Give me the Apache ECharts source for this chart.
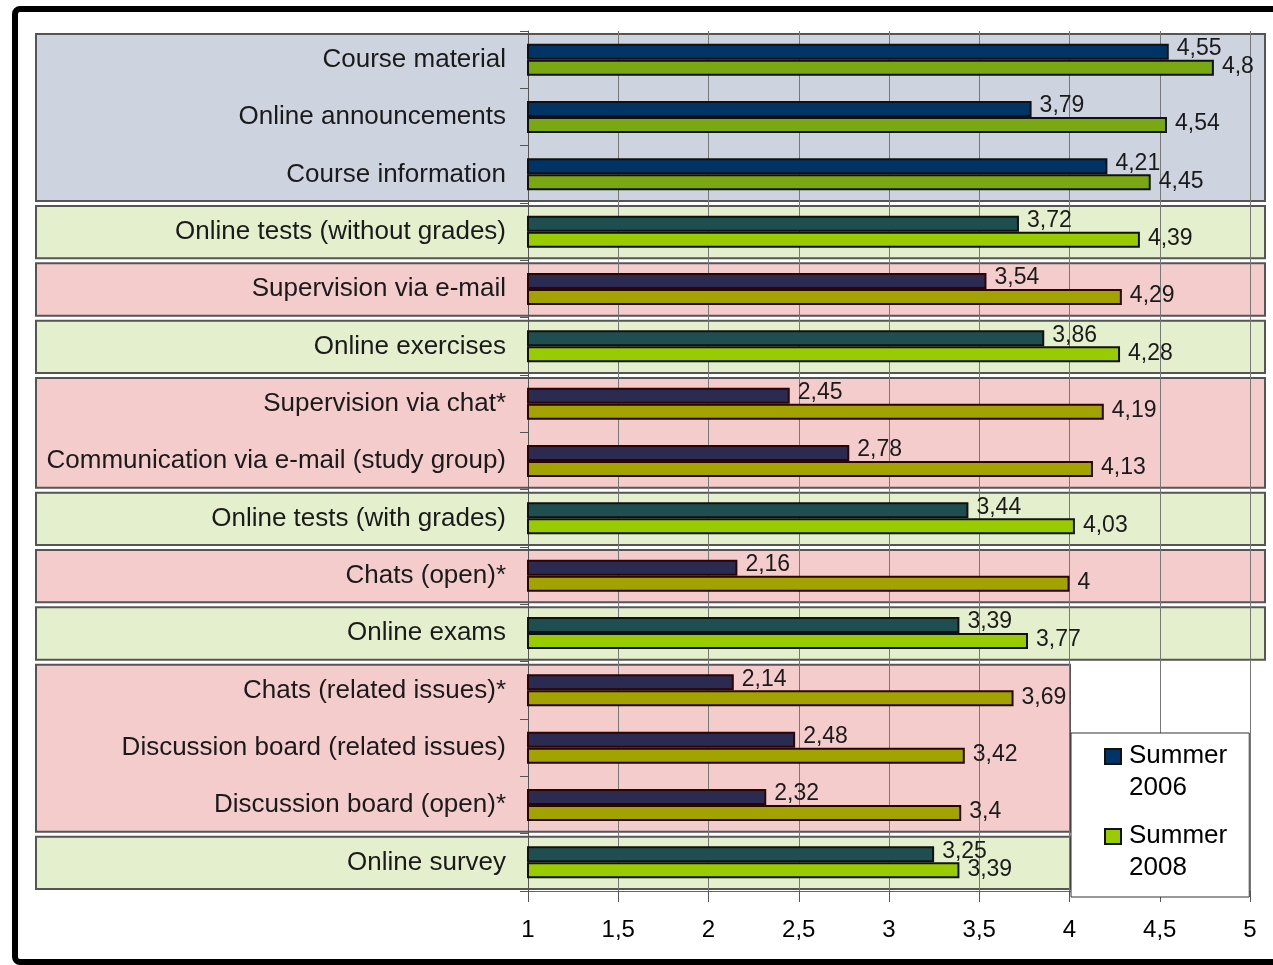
<!DOCTYPE html>
<html>
<head>
<meta charset="utf-8">
<script src="https://cdn.jsdelivr.net/npm/echarts@6/dist/echarts.min.js"></script>
<style>
  html, body { margin: 0; padding: 0; background: #fff; }
  #chart { width: 1273px; height: 965px; }
</style>
</head>
<body>
<div id="chart"></div>
<script>
// ---------- data ----------
const categories = [
  'Course material',
  'Online announcements',
  'Course information',
  'Online tests (without grades)',
  'Supervision via e-mail',
  'Online exercises',
  'Supervision via chat*',
  'Communication via e-mail (study group)',
  'Online tests (with grades)',
  'Chats (open)*',
  'Online exams',
  'Chats (related issues)*',
  'Discussion board (related issues)',
  'Discussion board (open)*',
  'Online survey'
];
const seriesNames = ['Summer 2006', 'Summer 2008'];
const summer2006 = [4.55, 3.79, 4.21, 3.72, 3.54, 3.86, 2.45, 2.78, 3.44, 2.16, 3.39, 2.14, 2.48, 2.32, 3.25];
const summer2008 = [4.8, 4.54, 4.45, 4.39, 4.29, 4.28, 4.19, 4.13, 4.03, 4, 3.77, 3.69, 3.42, 3.4, 3.39];
const xAxisMin = 1;
const xAxisMax = 5;
const xAxisStep = 0.5;
// category groups (first index, last index, kind)
const groupFirst = [0, 3, 4, 5, 6, 8, 9, 10, 11, 14];
const groupLast  = [2, 3, 4, 5, 7, 8, 9, 10, 13, 14];
const groupKind  = ['info', 'practice', 'comm', 'practice', 'comm', 'practice', 'comm', 'practice', 'comm', 'practice'];

// ---------- styles ----------
const FONT = '"Liberation Sans", Arial, sans-serif';
const kindStyle = {
  info:     { bg: '#cdd4df', c1: '#003366', c2: '#7aa812', border: '#111111' },
  practice: { bg: '#e4efcd', c1: '#1f4e50', c2: '#99cc00', border: '#111111' },
  comm:     { bg: '#f4cccc', c1: '#2b2b52', c2: '#a3a300', border: '#2a0505' }
};
const LEGEND_LEFT = 1071, LEGEND_TOP = 733;
const BOX_LEFT = 36, BOX_RIGHT = 1265;

function kindOf(i) {
  for (let g = 0; g < groupFirst.length; g++) {
    if (i >= groupFirst[g] && i <= groupLast[g]) return groupKind[g];
  }
  return 'practice';
}

const data2006 = summer2006.map((v, i) => {
  const s = kindStyle[kindOf(i)];
  return { value: v, itemStyle: { color: s.c1, borderColor: s.border } };
});
const data2008 = summer2008.map((v, i) => {
  const s = kindStyle[kindOf(i)];
  return { value: v, itemStyle: { color: s.c2, borderColor: s.border } };
});

const labelFmt = p => String(p.value).replace('.', ',');

const chart = echarts.init(document.getElementById('chart'), null, { renderer: 'canvas' });

const option = {
  backgroundColor: '#ffffff',
  animation: false,
  grid: { left: 528, right: 23, top: 31, bottom: 74, containLabel: false },
  legend: {
    orient: 'vertical',
    left: LEGEND_LEFT,
    top: LEGEND_TOP,
    padding: [6, 22, 12, 33],
    itemGap: 14,
    itemWidth: 16,
    itemHeight: 64,
    icon: 'path://M0,9L16,9L16,24L0,24ZM0,0M16,64',
    backgroundColor: '#ffffff',
    borderColor: '#333333',
    borderWidth: 1,
    formatter: name => name.replace(' ', '\n'),
    textStyle: { fontFamily: FONT, fontSize: 26, lineHeight: 32, color: '#000', padding: [0, 0, 0, 3] },
    data: seriesNames
  },
  xAxis: {
    type: 'value',
    min: xAxisMin,
    max: xAxisMax,
    interval: xAxisStep,
    axisLine: { show: true, lineStyle: { color: '#666', width: 1 } },
    axisTick: { show: true, length: 11, lineStyle: { color: '#555' } },
    splitLine: { show: true, lineStyle: { color: '#777777', width: 1 } },
    axisLabel: {
      margin: 27,
      fontFamily: FONT,
      fontSize: 24,
      color: '#000',
      formatter: v => String(v).replace('.', ',')
    }
  },
  yAxis: {
    type: 'category',
    inverse: true,
    data: categories,
    axisLine: { show: true, lineStyle: { color: '#555', width: 1 } },
    axisTick: { show: true, length: 8, lineStyle: { color: '#555' } },
    axisLabel: {
      margin: 22,
      fontFamily: FONT,
      fontSize: 26,
      color: '#1a1a1a'
    },
    splitLine: { show: false }
  },
  series: [
    {
      name: seriesNames[0],
      type: 'bar',
      data: data2006,
      barWidth: 16,
      barGap: '0%',
      clip: true,
      itemStyle: { color: '#003366', borderColor: '#111', borderWidth: 2 },
      label: {
        show: true, position: 'right', distance: 8, offset: [0, -3],
        fontFamily: FONT, fontSize: 23, color: '#1a1a1a', formatter: labelFmt
      },
      z: 3
    },
    {
      name: seriesNames[1],
      type: 'bar',
      data: data2008,
      barWidth: 16,
      barGap: '0%',
      clip: true,
      itemStyle: { color: '#99cc00', borderColor: '#111', borderWidth: 2 },
      label: {
        show: true, position: 'right', distance: 8, offset: [0, -1],
        fontFamily: FONT, fontSize: 23, color: '#1a1a1a', formatter: labelFmt
      },
      z: 3
    }
  ]
};

chart.setOption(option);

// ---------- background group boxes derived from the axes ----------
const centers = categories.map(c => chart.convertToPixel({ yAxisIndex: 0 }, c));
const band = Math.abs(centers[1] - centers[0]);
const graphics = [];
for (let g = 0; g < groupFirst.length; g++) {
  const top = centers[groupFirst[g]] - band / 2 + 3;
  const bottom = centers[groupLast[g]] + band / 2 - 2;
  const right = bottom > LEGEND_TOP ? LEGEND_LEFT - 1 : BOX_RIGHT;
  graphics.push({
    type: 'rect',
    z: -10,
    shape: { x: BOX_LEFT, y: top, width: right - BOX_LEFT, height: bottom - top },
    style: { fill: kindStyle[groupKind[g]].bg, stroke: '#555555', lineWidth: 2 },
    silent: true
  });
}
// outer frame
graphics.push({
  type: 'rect',
  z: 100,
  shape: { x: 15, y: 9, width: 1300, height: 953, r: 5 },
  style: { fill: null, stroke: '#000000', lineWidth: 6 },
  silent: true
});
chart.setOption({ graphic: { elements: graphics } });
</script>
</body>
</html>
